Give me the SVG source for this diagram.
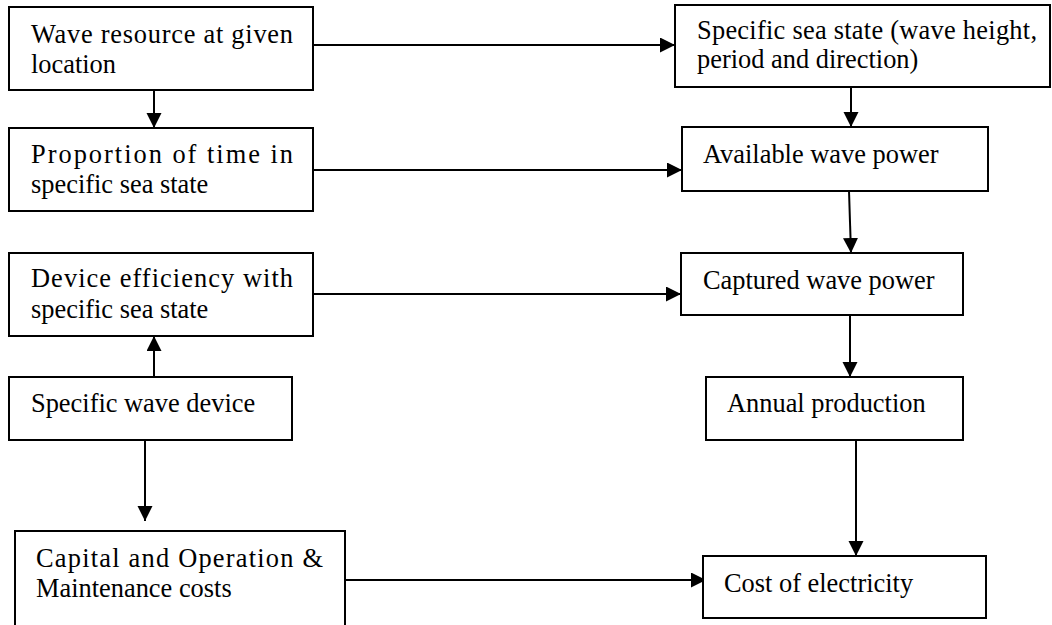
<svg xmlns="http://www.w3.org/2000/svg" width="1052" height="625" viewBox="0 0 1052 625">
<style>
.box{fill:#fff;stroke:#000;stroke-width:2}
.t{font-size:26.4px;fill:#000}
.c{stroke:#000;stroke-width:2;fill:none;marker-end:url(#ah)}
</style>
<defs>
<marker id="ah" markerUnits="userSpaceOnUse" markerWidth="16" markerHeight="16" refX="15" refY="7.5" orient="auto">
<path d="M0,0 L15,7.5 L0,15 Z" fill="#000"/>
</marker>
</defs>
<g id="connectors">
<line class="c" x1="154" y1="90" x2="154" y2="128"/>
<line class="c" x1="313" y1="45" x2="675" y2="45"/>
<line class="c" x1="851" y1="87" x2="851" y2="127"/>
<line class="c" x1="313" y1="170" x2="682" y2="170"/>
<line class="c" x1="849" y1="191" x2="851" y2="253"/>
<line class="c" x1="313" y1="294" x2="681" y2="294"/>
<line class="c" x1="154" y1="377" x2="154" y2="336"/>
<line class="c" x1="850" y1="315" x2="850" y2="377"/>
<line class="c" x1="145" y1="440" x2="145" y2="521"/>
<line class="c" x1="345" y1="580" x2="706" y2="580"/>
<line class="c" x1="856" y1="440" x2="856" y2="556"/>
</g>
<g font-family="'Liberation Serif', 'Times New Roman', 'DejaVu Serif', serif">
<g id="n1"><rect class="box" x="9" y="7" width="304" height="83"/>
<text class="t" x="31" y="43" textLength="262" lengthAdjust="spacing">Wave resource at given</text>
<text class="t" x="31" y="73">location</text></g>
<g id="n2"><rect class="box" x="9" y="128" width="304" height="83"/>
<text class="t" x="31" y="163" textLength="262" lengthAdjust="spacing">Proportion of time in</text>
<text class="t" x="31" y="193">specific sea state</text></g>
<g id="n3"><rect class="box" x="675" y="5" width="375" height="82"/>
<text class="t" x="697" y="39" textLength="340" lengthAdjust="spacing">Specific sea state (wave height,</text>
<text class="t" x="697" y="68">period and direction)</text></g>
<g id="n4"><rect class="box" x="682" y="127" width="306" height="64"/>
<text class="t" x="703" y="163">Available wave power</text></g>
<g id="n5"><rect class="box" x="681" y="253" width="282" height="62"/>
<text class="t" x="703" y="289">Captured wave power</text></g>
<g id="n6"><rect class="box" x="9" y="253" width="304" height="83"/>
<text class="t" x="31" y="287" textLength="262" lengthAdjust="spacing">Device efficiency with</text>
<text class="t" x="31" y="318">specific sea state</text></g>
<g id="n7"><rect class="box" x="9" y="377" width="283" height="63"/>
<text class="t" x="31" y="412">Specific wave device</text></g>
<g id="n8"><rect class="box" x="706" y="377" width="257" height="63"/>
<text class="t" x="727" y="412">Annual production</text></g>
<g id="n9"><path class="box" d="M15,626 L15,531 L345,531 L345,626"/>
<text class="t" x="36" y="567" textLength="287" lengthAdjust="spacing">Capital and Operation &amp;</text>
<text class="t" x="36" y="597">Maintenance costs</text></g>
<g id="n10"><rect class="box" x="703" y="556" width="283" height="62"/>
<text class="t" x="724" y="592">Cost of electricity</text></g>
</g>
</svg>
